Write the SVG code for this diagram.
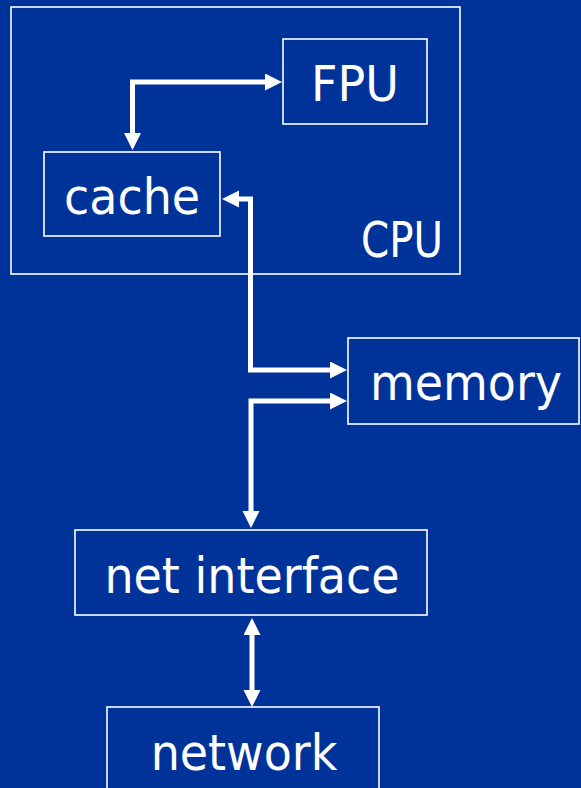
<svg xmlns="http://www.w3.org/2000/svg" width="581" height="788" viewBox="0 0 581 788">
<style>
.box{fill:none;stroke:#ffffff;stroke-width:1.6}
.lbl{font-family:"DejaVu Sans","Liberation Sans",sans-serif;font-size:46px;fill:#ffffff}
.conn{fill:none;stroke:#ffffff;stroke-width:5;stroke-linejoin:miter;marker-start:url(#arrow);marker-end:url(#arrow)}
</style>
<defs>
<marker id="arrow" markerUnits="userSpaceOnUse" markerWidth="19" markerHeight="19" refX="1" refY="8.5" orient="auto-start-reverse">
<path d="M0,0 L17,8.5 L0,17 Z" fill="#ffffff"/>
</marker>
</defs>
<rect x="0" y="0" width="581" height="788" fill="#003399"/>
<g id="cpu">
<rect class="box" x="11" y="7" width="449" height="267"/>
<text class="lbl" text-anchor="end" textLength="82" lengthAdjust="spacingAndGlyphs" transform="translate(443,257) scale(1,1.08)">CPU</text>
</g>
<g id="fpu">
<rect class="box" x="283" y="39" width="144" height="85"/>
<text class="lbl" text-anchor="middle" transform="translate(355,101) scale(1,1.08)">FPU</text>
</g>
<g id="cache">
<rect class="box" x="44" y="152" width="176" height="84"/>
<text class="lbl" text-anchor="middle" transform="translate(132,214) scale(1,1.08)">cache</text>
</g>
<g id="memory">
<rect class="box" x="348" y="338" width="231" height="86"/>
<text class="lbl" text-anchor="middle" transform="translate(466,400) scale(1,1.08)">memory</text>
</g>
<g id="net-interface">
<rect class="box" x="75" y="530" width="352" height="85"/>
<text class="lbl" text-anchor="middle" transform="translate(252,593) scale(1,1.08)">net interface</text>
</g>
<g id="network">
<rect class="box" x="107" y="707" width="272" height="90"/>
<text class="lbl" text-anchor="middle" transform="translate(244,770) scale(1,1.08)">network</text>
</g>
<g id="connectors">
<path class="conn" d="M132.5,134 L132.5,82 L266,82"/>
<path class="conn" d="M238,199 L250.5,199 L250.5,370 L331,370"/>
<path class="conn" d="M331,401 L251,401 L251,512"/>
<path class="conn" d="M252,634 L252,691"/>
</g>
</svg>
